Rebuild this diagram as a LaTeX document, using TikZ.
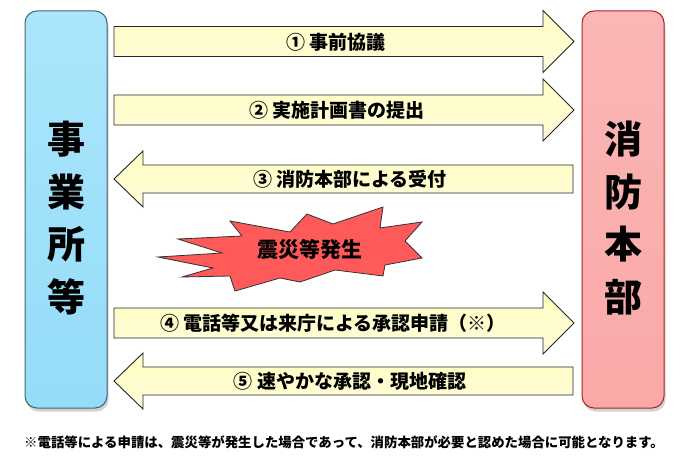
\documentclass[tikz,border=0pt]{standalone}
\usepackage{fontspec}
\setmainfont{Noto Sans CJK JP}
\usetikzlibrary{shadows}
\definecolor{boxblue}{RGB}{148,220,248}
\definecolor{boxbluetop}{RGB}{170,230,252}
\definecolor{blueedge}{RGB}{70,100,120}
\definecolor{boxpink}{RGB}{250,168,168}
\definecolor{boxpinktop}{RGB}{252,182,182}
\definecolor{pinkedge}{RGB}{170,35,35}
\definecolor{arrowtop}{RGB}{255,255,192}
\definecolor{arrowbot}{RGB}{255,250,220}
\definecolor{burst}{RGB}{255,90,90}
\tikzset{
  partybox/.style={rounded corners=12pt, minimum width=82pt, minimum height=397pt,
    line width=1pt, drop shadow={opacity=0.35, shadow xshift=1.5pt, shadow yshift=-3.5pt}},
  flowarrow/.style={draw=black!85, line width=0.9pt, top color=arrowtop, bottom color=arrowbot},
  arrowlabel/.style={font=\bfseries\fontsize{19}{20}\selectfont, inner sep=0pt},
  bigtext/.style={font=\bfseries\fontsize{38}{52.5}\selectfont, align=center, inner sep=0pt},
}
\newcommand\rightflow[1]{%
  \path[flowarrow] (114,#1-15) -- (543,#1-15) -- (543,#1-31) -- (574,#1) -- (543,#1+31)
    -- (543,#1+15) -- (114,#1+15) -- cycle;}
\newcommand\leftflow[1]{%
  \path[flowarrow] (573,#1-14) -- (143,#1-14) -- (143,#1-28) -- (114,#1) -- (143,#1+28)
    -- (143,#1+14) -- (573,#1+14) -- cycle;}
\begin{document}
\begin{tikzpicture}[x=1pt,y=-1pt]
\useasboundingbox (0,0) rectangle (690,460);
\fill[white] (0,0) rectangle (690,460);

% parties
\node[partybox, draw=blueedge, top color=boxbluetop, bottom color=boxblue] (jigyo) at (66,209.5) {};
\node[bigtext] (jigyotext) at (66,218) {事\\業\\所\\等};
\node[partybox, draw=pinkedge, top color=boxpinktop, bottom color=boxpink] (shobo) at (623,209.5) {};
\node[bigtext] (shobotext) at (623,218) {消\\防\\本\\部};

% flows
\rightflow{41.5}
\node[arrowlabel] (a1) at (336,42) {① 事前協議};
\rightflow{110}
\node[arrowlabel] (a2) at (337,110) {② 実施計画書の提出};
\leftflow{179}
\node[arrowlabel] (a3) at (350,179) {③ 消防本部による受付};
\rightflow{323}
\node[arrowlabel] (a4) at (333,323) {④ 電話等又は来庁による承認申請（※）};
\leftflow{381}
\node[arrowlabel] (a5) at (350,381) {⑤ 速やかな承認・現地確認};

% disaster burst
\path[draw=black!80, line width=0.8pt, fill=burst]
  (158,257) -- (222,253) -- (178,239) -- (242,236) -- (230,221) -- (290,232)
  -- (307,214) -- (333,224) -- (383,207) -- (380,228) -- (422,222) -- (405,241)
  -- (422,258) -- (385,265) -- (383,276) -- (335,270) -- (300,282) -- (280,278)
  -- (235,291) -- (230,276) -- (182,277) -- (213,268) -- cycle;
\node[font=\bfseries\fontsize{21}{24}\selectfont, inner sep=0pt] (burst) at (310,249) {震災等発生};

% footnote
\node[font=\bfseries\fontsize{13.4}{15}\selectfont, inner sep=0pt] (note) at (344,442)
  {※電話等による申請は、震災等が発生した場合であって、消防本部が必要と認めた場合に可能となります。};
\end{tikzpicture}
\end{document}
